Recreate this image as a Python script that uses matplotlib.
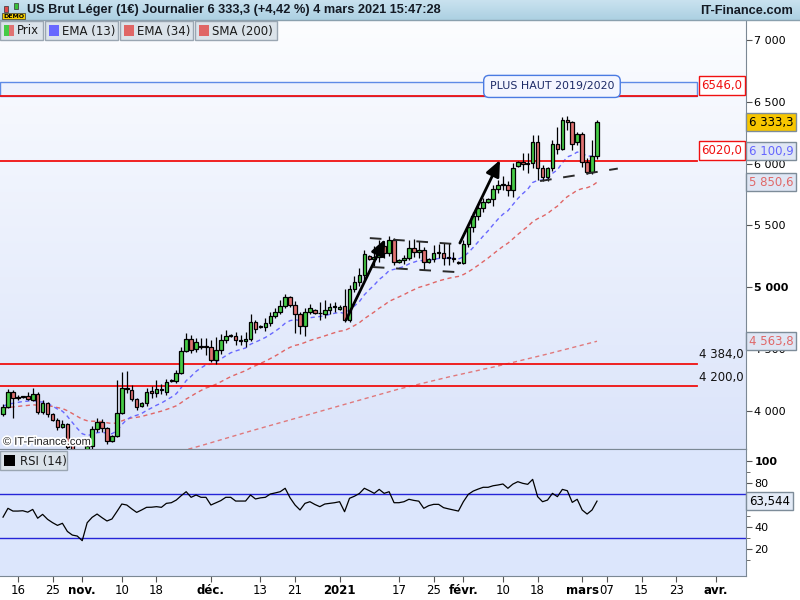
import matplotlib
matplotlib.use('Agg')
import matplotlib.pyplot as plt
import matplotlib.patches as mpatches
import matplotlib.transforms as mtransforms
import matplotlib.patheffects as pe
from matplotlib.colors import LinearSegmentedColormap
import numpy as np
import pandas as pd

plt.rcParams['font.family'] = ['DejaVu Sans']

# daily CFD bars, Sunday to Friday, no bar on Dec 25 / Jan 1
holidays = ['2020-12-25', '2021-01-01']
days = pd.date_range('2020-10-13', '2021-04-12')
days = days[(days.weekday != 5) & ~days.isin(pd.to_datetime(holidays))]

opens = [3976, 4032, 4154, 4105, 4113, 4121, 4089, 4137, 3992, 4065,
         3976, 3927, 3871, 3895, 3760, 3610, 3570, 3560, 3717, 3854,
         3911, 3863, 3757, 3798, 3984, 4186, 4170, 4097, 4040, 4065,
         4162, 4146, 4178, 4154, 4243, 4243, 4307, 4485, 4582, 4501,
         4525, 4525, 4517, 4412, 4493, 4574, 4606, 4606, 4574, 4566,
         4582, 4720, 4679, 4679, 4711, 4768, 4800, 4849, 4922, 4857,
         4784, 4687, 4800, 4816, 4792, 4784, 4816, 4841, 4825, 4849,
         4736, 4986, 5043, 5099, 5253, 5229, 5245, 5334, 5277, 5382,
         5205, 5221, 5237, 5318, 5285, 5302, 5205, 5229, 5277, 5277,
         5237, 5240, 5205, 5197, 5350, 5487, 5576, 5641, 5690, 5714,
         5795, 5827, 5827, 5787, 5981, 6013, 5997, 6005, 6175, 5964,
         5892, 5964, 6159, 6118, 6353, 6337, 6175, 6240, 6013, 5932,
         6065]
highs = [4057, 4178, 4170, 4129, 4125, 4154, 4186, 4154, 4089, 4073,
         3980, 3940, 3927, 3903, 3790, 3650, 3590, 3740, 3879, 3943,
         3935, 3870, 3806, 4251, 4315, 4323, 4210, 4105, 4073, 4186,
         4202, 4251, 4218, 4259, 4259, 4331, 4517, 4631, 4614, 4590,
         4590, 4590, 4574, 4598, 4622, 4655, 4622, 4639, 4614, 4639,
         4784, 4736, 4695, 4752, 4800, 4833, 4897, 4946, 4930, 4889,
         4800, 4833, 4865, 4825, 4881, 4897, 4873, 4881, 4857, 4986,
         5019, 5091, 5156, 5302, 5261, 5334, 5382, 5366, 5415, 5398,
         5229, 5261, 5382, 5390, 5374, 5326, 5237, 5342, 5350, 5358,
         5358, 5285, 5213, 5382, 5512, 5609, 5673, 5722, 5722, 5827,
         5868, 5900, 5860, 6005, 6021, 6086, 6086, 6231, 6231, 5989,
         5972, 6191, 6296, 6377, 6385, 6342, 6256, 6256, 6046, 6191,
         6353]
lows = [3960, 4024, 3943, 4089, 4105, 4089, 4080, 3976, 3976, 3951,
        3920, 3846, 3860, 3685, 3560, 3510, 3520, 3440, 3685, 3830,
        3830, 3733, 3750, 3790, 3976, 4146, 4081, 4008, 4032, 4040,
        4105, 4113, 4137, 4129, 4234, 4226, 4299, 4477, 4469, 4477,
        4501, 4453, 4396, 4380, 4461, 4550, 4598, 4534, 4534, 4517,
        4566, 4631, 4671, 4647, 4687, 4752, 4784, 4833, 4841, 4631,
        4622, 4606, 4784, 4784, 4736, 4752, 4784, 4800, 4816, 4720,
        4720, 4962, 5010, 5059, 5221, 5172, 5205, 5237, 5253, 5180,
        5197, 5188, 5221, 5245, 5237, 5140, 5197, 5205, 5237, 5180,
        5180, 5205, 5188, 5188, 5326, 5447, 5544, 5609, 5682, 5657,
        5762, 5787, 5738, 5730, 5975, 5948, 5924, 5964, 5868, 5860,
        5860, 5940, 6078, 6110, 6272, 6110, 6150, 5972, 5916, 5916,
        6037]
closes = [4032, 4154, 4105, 4113, 4121, 4097, 4137, 3992, 4065, 3976,
          3927, 3871, 3895, 3709, 3610, 3570, 3560, 3717, 3854, 3911,
          3863, 3757, 3798, 3984, 4186, 4178, 4097, 4032, 4065, 4154,
          4146, 4178, 4170, 4234, 4251, 4307, 4485, 4582, 4493, 4558,
          4520, 4517, 4412, 4493, 4574, 4606, 4614, 4574, 4570, 4582,
          4720, 4663, 4683, 4711, 4768, 4800, 4849, 4922, 4857, 4784,
          4687, 4800, 4833, 4792, 4790, 4816, 4841, 4845, 4841, 4736,
          4986, 5043, 5099, 5269, 5229, 5245, 5334, 5277, 5382, 5205,
          5221, 5237, 5318, 5285, 5302, 5205, 5229, 5277, 5280, 5237,
          5240, 5229, 5197, 5350, 5487, 5576, 5641, 5690, 5714, 5795,
          5827, 5830, 5787, 5964, 6013, 5997, 6005, 6175, 5964, 5892,
          5964, 6159, 6118, 6353, 6337, 6159, 6240, 6013, 5932, 6065,
          6333.3]

rsi = [49.0, 57.0, 54.5, 54.5, 54.8, 53.5, 56.0, 48.0, 51.5, 47.0,
       44.0, 41.5, 43.4, 36.0, 32.7, 31.8, 27.6, 43.9, 48.8, 51.8,
       48.5, 45.5, 47.3, 54.0, 60.9, 60.0, 56.5, 53.3, 55.5, 57.9,
       58.0, 58.5, 57.9, 61.5, 62.1, 64.5, 68.5, 72.1, 67.0, 69.1,
       67.0, 67.0, 60.0, 62.0, 64.0, 67.0, 67.0, 63.6, 63.6, 63.6,
       69.1, 65.5, 66.5, 67.0, 70.0, 71.0, 72.1, 75.2, 66.5, 60.0,
       55.5, 61.5, 63.0, 60.5, 58.5, 60.9, 61.5, 62.1, 63.0, 53.9,
       66.1, 68.0, 70.5, 75.2, 73.0, 70.6, 74.2, 70.6, 72.1, 62.1,
       62.1, 63.0, 65.2, 64.2, 63.5, 57.0, 59.4, 60.6, 60.6, 57.6,
       56.5, 55.5, 54.5, 63.0, 69.7, 72.7, 74.5, 76.1, 76.1, 77.5,
       78.2, 79.1, 75.2, 79.0, 81.2, 79.7, 78.8, 83.3, 67.6, 63.0,
       64.5, 70.6, 67.6, 74.2, 73.0, 62.4, 65.2, 55.5, 51.8, 55.5,
       63.544]

# SMA(200) at a few bars (needs history not shown)
sma_idx = [30, 40, 50, 60, 70, 80, 90, 100, 110, 120]
sma200 = [3610, 3720, 3838, 3951, 4065, 4178, 4275, 4364, 4461, 4564]
ema13_seed = 4040
ema34_seed = 4020

levels = [6546.0, 6020.0, 4384.0, 4200.0]
level_labels = ['6546,0', '6020,0', '4 384,0', '4 200,0']
level_boxed = [True, True, False, False]
zone = (6546.0, 6660.0)
zone_text = 'PLUS HAUT 2019/2020'

# hand-drawn annotations (bar index, price)
arrows = [((69.3, 4736), (77.2, 5390)), ((92.3, 5358), (100.4, 6029))]
dash_lines = [([74.1, 91.3], [5398, 5350]),
              ([74.7, 91.3], [5164, 5124]),
              ([108.5, 124.2], [5859, 5960])]

tick_dates = ['2020-10-16', '2020-10-25', '2020-11-01', '2020-11-10', '2020-11-18',
              '2020-12-01', '2020-12-13', '2020-12-21', '2021-01-03', '2021-01-17',
              '2021-01-25', '2021-02-01', '2021-02-10', '2021-02-18', '2021-03-01',
              '2021-03-07', '2021-03-15', '2021-03-23', '2021-04-01']
tick_labels = ['16', '25', 'nov.', '10', '18', 'déc.', '13', '21', '2021', '17',
               '25', 'févr.', '10', '18', 'mars', '07', '15', '23', 'avr.']
bold_labels = ['nov.', 'déc.', '2021', 'févr.', 'mars', 'avr.']

price_ticks = [4000, 4500, 5000, 5500, 6000, 6500, 7000]
price_tick_labels = ['4 000', '4 500', '5 000', '5 500', '6 000', '6 500', '7 000']
rsi_ticks = [20, 40, 60, 80, 100]

right_boxes = [(6333.3, '6 333,3', 'black', '#f7c600'),
               (6100.9, '6 100,9', '#6666ff', '#dfe6f4'),
               (5850.6, '5 850,6', '#e06868', '#dfe6f4'),
               (4563.8, '4 563,8', '#e06868', '#dfe6f4')]

GREEN = '#46cc46'
RED = '#e07272'
BLUE_MA = '#6868ff'
RED_MA = '#e06666'
GRID = '#7b8894'

n = len(closes)
x = np.arange(n)
o = np.array(opens, dtype=float)
c = np.array(closes, dtype=float)
ema13 = pd.Series([ema13_seed] + closes).ewm(span=13, adjust=False).mean().values[1:]
ema34 = pd.Series([ema34_seed] + closes).ewm(span=34, adjust=False).mean().values[1:]

W, H = 800, 600
def frect(x0, y0, x1, y1):
    return [x0 / W, 1 - y1 / H, (x1 - x0) / W, (y1 - y0) / H]

fig = plt.figure(figsize=(8, 6), dpi=100)
fig.patch.set_facecolor('white')
ax = fig.add_axes(frect(0, 20, 746, 449))
axr = fig.add_axes(frect(0, 449, 746, 576))

xlim = (-0.61, 150.1)

# ---- main panel ----
bg = LinearSegmentedColormap.from_list('bg', ['#dbe4fa', '#fcfdff'])
ax.imshow(np.linspace(0, 1, 256).reshape(-1, 1), cmap=bg, aspect='auto',
          extent=[0, 1, 0, 1], transform=ax.transAxes, origin='lower', zorder=0)

blend = mtransforms.blended_transform_factory(ax.transAxes, ax.transData)
right_end = 697 / 746

ax.add_patch(mpatches.Rectangle((0, zone[0]), right_end, zone[1] - zone[0], transform=blend,
                                fc='#eef2fd', ec='#5d8ae6', lw=1, zorder=1.5))
for lv, lab, boxed in zip(levels, level_labels, level_boxed):
    ax.plot([0, right_end], [lv, lv], transform=blend, color='#f01010', lw=1.3, zorder=2.5)
    if boxed:
        ax.annotate(lab, xy=(right_end, lv), xycoords=blend, xytext=(3, 3),
                    textcoords='offset points', ha='left', va='bottom', fontsize=8.5,
                    color='#f01010',
                    bbox=dict(boxstyle='square,pad=0.22', fc='white', ec='#f01010', lw=1))
    else:
        ax.annotate(lab, xy=(1, lv), xycoords=blend, xytext=(-2, 2),
                    textcoords='offset points', ha='right', va='bottom', fontsize=8.5,
                    color='#111111')

ax.text(110.9, 6624, zone_text, ha='center', va='center', fontsize=7.9, color='#1c2a66',
        zorder=6, bbox=dict(boxstyle='round,pad=0.55,rounding_size=0.5', fc='#f4f6ff',
                            ec='#4a7be2', lw=1))

ax.plot(sma_idx, sma200, color=RED_MA, lw=1, ls=(0, (3, 2.5)), alpha=0.85, zorder=2)
ax.plot(x, ema34, color=RED_MA, lw=1, ls=(0, (3, 2.5)), zorder=2)
ax.plot(x, ema13, color=BLUE_MA, lw=1, ls=(0, (3, 2.5)), zorder=2)

body_low = np.minimum(o, c)
body_h = np.maximum(np.abs(c - o), 5)
cols = [GREEN if cc >= oo else RED for oo, cc in zip(o, c)]
ax.vlines(x, lows, highs, color='black', lw=0.9, zorder=3)
ax.bar(x, body_h, bottom=body_low, width=0.72, color=cols, edgecolor='black',
       linewidth=0.9, zorder=4)

for xs, ys in dash_lines:
    ax.plot(xs, ys, color='#2a2a2a', lw=1.4, ls=(0, (6, 6)), zorder=5)
for tail, tip in arrows:
    ax.annotate('', xy=tip, xytext=tail, zorder=6,
                arrowprops=dict(arrowstyle='-|>,head_length=0.8,head_width=0.35',
                                color='black', lw=2, shrinkA=0, shrinkB=0,
                                mutation_scale=12))

ax.set_xlim(*xlim)
ax.set_ylim(3693, 7161)
ax.yaxis.tick_right()
ax.set_yticks(price_ticks)
ax.set_yticklabels(price_tick_labels)
for t in ax.get_yticklabels():
    if t.get_text() == '5 000':
        t.set_fontweight('bold')
ax.tick_params(axis='y', direction='out', length=4, pad=2, labelsize=8, color='#555555')
ax.tick_params(axis='x', length=0, labelbottom=False)
for s in ['left', 'top']:
    ax.spines[s].set_visible(False)
for s in ['right', 'bottom']:
    ax.spines[s].set_color(GRID)

for val, lab, tc, fc in right_boxes:
    ax.text(1.004, val, lab, transform=blend, ha='left', va='center', fontsize=8.5,
            color=tc, zorder=7, clip_on=False,
            bbox=dict(boxstyle='square,pad=0.22', fc=fc, ec='#7d8c99', lw=1))

ax.text(0.004, 0.005, '© IT-Finance.com', transform=ax.transAxes, fontsize=8,
        family=['Liberation Sans', 'DejaVu Sans'],
        color='#222222', ha='left', va='bottom', zorder=8,
        path_effects=[pe.withStroke(linewidth=2.5, foreground='white')])

# ---- RSI panel ----
axr.set_facecolor('#dce6fc')
axr.axhline(70, color='#2525d8', lw=1, zorder=2)
axr.axhline(30, color='#2525d8', lw=1, zorder=2)
axr.plot(x, rsi, color='black', lw=0.9, zorder=3)
axr.set_xlim(*xlim)
axr.set_ylim(-4.5, 110.9)
axr.yaxis.tick_right()
axr.set_yticks(rsi_ticks)
axr.set_yticklabels([str(v) for v in rsi_ticks])
axr.set_yticks([10, 30, 50, 70, 90], minor=True)
for t in axr.get_yticklabels():
    if t.get_text() == '100':
        t.set_fontweight('bold')
axr.tick_params(axis='y', which='both', direction='out', length=4, pad=2, labelsize=8,
                color='#555555')
axr.tick_params(axis='y', which='minor', length=3)
axr.text(1.004, rsi[-1], '63,544', transform=mtransforms.blended_transform_factory(
    axr.transAxes, axr.transData), ha='left', va='center', fontsize=8.5, color='black',
    zorder=7, clip_on=False, bbox=dict(boxstyle='square,pad=0.22', fc='#e4ebf7',
                                       ec='#7d8c99', lw=1))

tick_pos = [days.get_loc(pd.Timestamp(d)) for d in tick_dates]
axr.set_xticks(tick_pos)
axr.set_xticklabels(tick_labels)
for t in axr.get_xticklabels():
    if t.get_text() in bold_labels:
        t.set_fontweight('bold')
axr.tick_params(axis='x', direction='out', length=4, pad=2, labelsize=8.5, color='#555555')
for s in ['left']:
    axr.spines[s].set_visible(False)
for s in ['right', 'bottom', 'top']:
    axr.spines[s].set_color(GRID)

# ---- overlay: header, legend boxes ----
ov = fig.add_axes([0, 0, 1, 1])
ov.set_xlim(0, W)
ov.set_ylim(H, 0)
ov.axis('off')
ov.set_zorder(10)

hdr = LinearSegmentedColormap.from_list('hdr', ['#c9e2ef', '#acd0e2'])
ov.imshow(np.linspace(0, 1, 64).reshape(-1, 1), cmap=hdr, aspect='auto',
          extent=[0, W, 20, 0], zorder=1)
ov.plot([0, W], [20, 20], color='#8aa0ae', lw=1, zorder=2)
hdr_font = ['Liberation Sans', 'DejaVu Sans']
ov.text(27, 10.5, 'US Brut Léger (1€) Journalier 6 333,3 (+4,42 %) 4 mars 2021 15:47:28',
        ha='left', va='center', fontsize=9.2, fontweight='bold', color='#141a24',
        family=hdr_font, zorder=3)
ov.text(793, 10.5, 'IT-Finance.com', ha='right', va='center', fontsize=9.2,
        fontweight='bold', color='#141a24', family=hdr_font, zorder=3)
# small DEMO icon
ov.add_patch(mpatches.Rectangle((4, 6), 4, 6, fc='#e04848', ec='#333333', lw=0.5, zorder=3))
ov.add_patch(mpatches.Rectangle((14, 3), 4, 6, fc='#38c038', ec='#333333', lw=0.5, zorder=3))
ov.text(13.5, 16, 'DEMO', ha='center', va='center', fontsize=4.5, fontweight='bold',
        color='black', zorder=4,
        bbox=dict(boxstyle='square,pad=0.1', fc='#f5cf00', ec='#333333', lw=0.5))

legend_items = [('Prix', None, 0, 43), ('EMA (13)', BLUE_MA, 45, 118),
                ('EMA (34)', RED_MA, 120, 193), ('SMA (200)', RED_MA, 195, 277)]
for lab, col, x0, x1 in legend_items:
    ov.add_patch(mpatches.Rectangle((x0, 21), x1 - x0, 19, fc='#dbe3ea', ec='#9aa6b2',
                                    lw=1, zorder=3))
    if col is None:
        ov.add_patch(mpatches.Rectangle((x0 + 4, 25), 5, 11, fc=GREEN, ec='none', zorder=4))
        ov.add_patch(mpatches.Rectangle((x0 + 9, 25), 5, 11, fc=RED, ec='none', zorder=4))
    else:
        ov.add_patch(mpatches.Rectangle((x0 + 4, 25), 10, 11, fc=col, ec='none', zorder=4))
    ov.text(x0 + 17, 31, lab, ha='left', va='center', fontsize=8.5, color='#1a1a1a', zorder=4)

ov.add_patch(mpatches.Rectangle((0, 451), 67, 19, fc='#dbe3ea', ec='#9aa6b2', lw=1, zorder=3))
ov.add_patch(mpatches.Rectangle((4, 455), 11, 11, fc='black', ec='none', zorder=4))
ov.text(20, 461, 'RSI (14)', ha='left', va='center', fontsize=8.5, color='#1a1a1a', zorder=4)

fig.savefig('out.png', dpi=100, facecolor='white')
plt.close(fig)
